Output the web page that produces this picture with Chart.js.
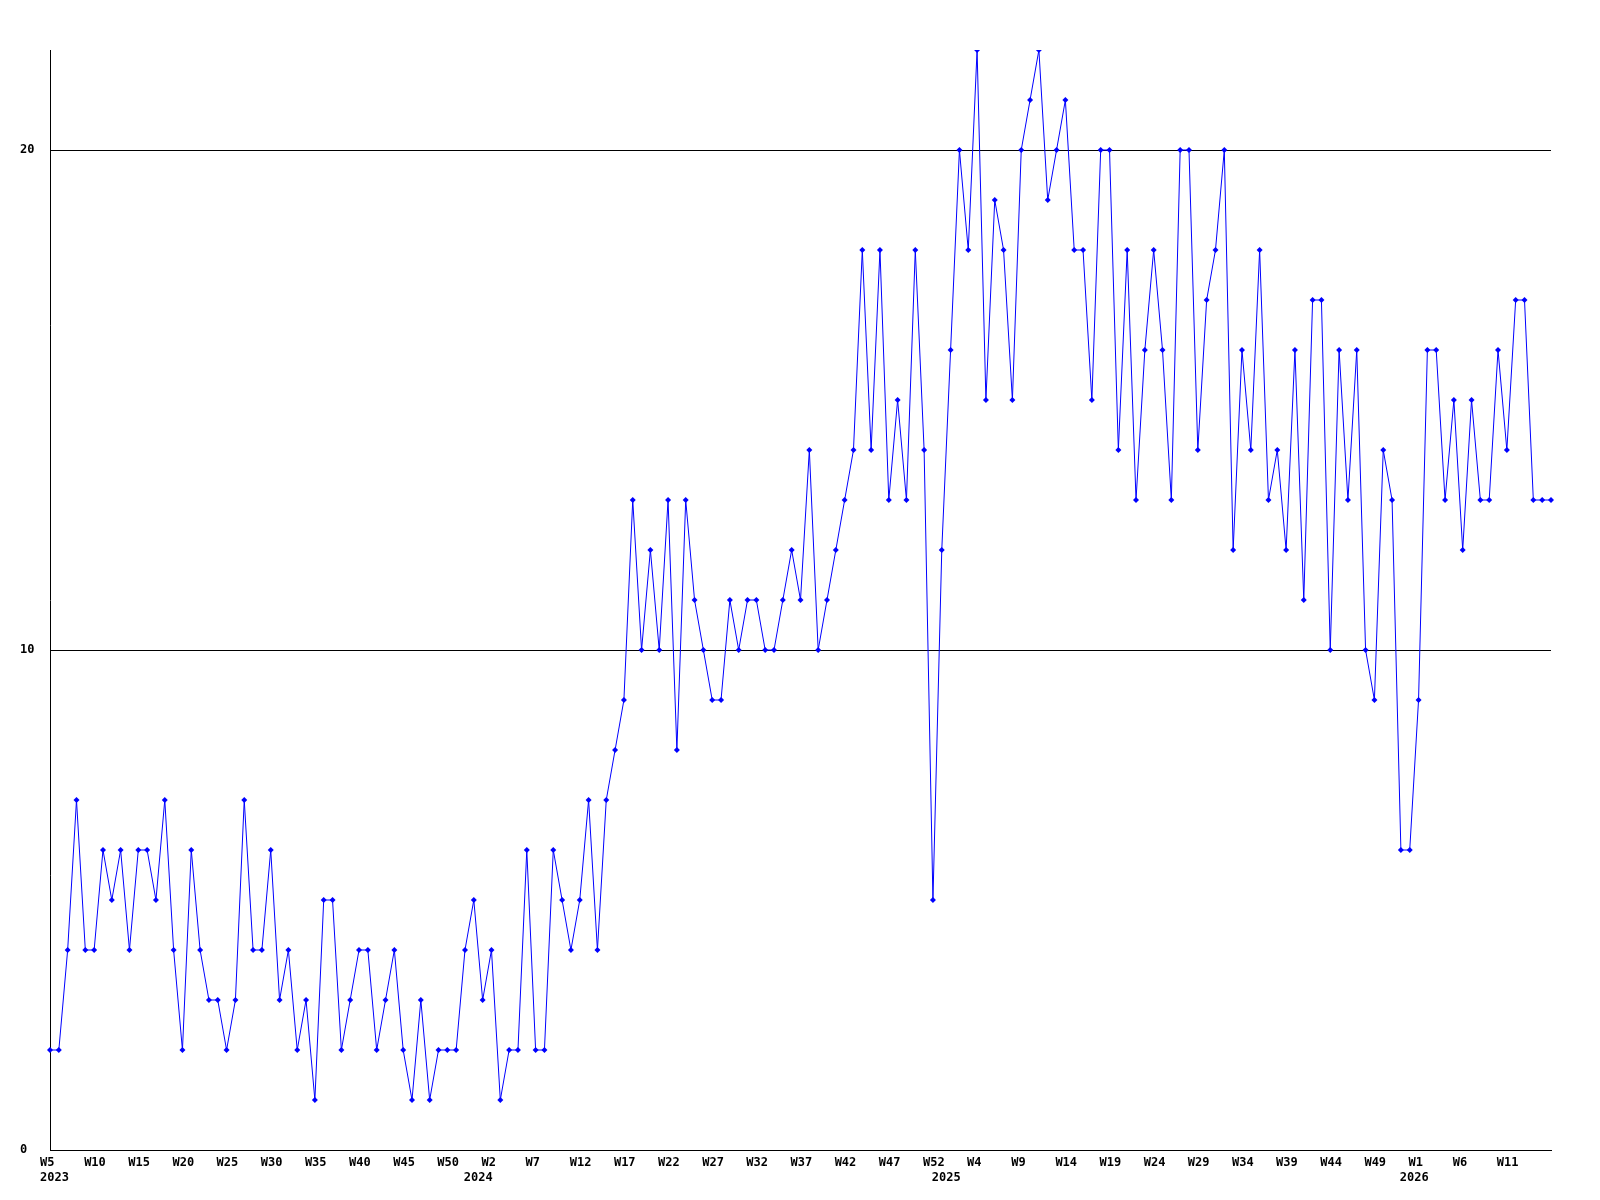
<!DOCTYPE html>
<html>
<head>
<meta charset="utf-8">
<script src="https://cdn.jsdelivr.net/npm/chart.js@4/dist/chart.umd.min.js"></script>
<style>
  html, body { margin: 0; padding: 0; background: #fff; }
  #chart { display: block; }
</style>
</head>
<body>
<canvas id="chart" width="1600" height="1200"></canvas>
<script>
// weekly counts, one array per year
const years = [2023, 2024, 2025, 2026];
const firstWeeks = [5, 0, 0, 0];
const lastWeeks = [52, 52, 52, 16];

const counts2023 = [
  2, 2, 4, 7, 4, 4, 6, 5, 6, 4, 6, 6, 5, 7, 4, 2, 6, 4, 3, 3, 2, 3, 7, 4,
  4, 6, 3, 4, 2, 3, 1, 5, 5, 2, 3, 4, 4, 2, 3, 4, 2, 1, 3, 1, 2, 2, 2, 4,
];
const counts2024 = [
  5, 3, 4, 1, 2, 2, 6, 2, 2, 6, 5, 4, 5, 7, 4, 7, 8, 9, 13, 10, 12, 10, 13, 8,
  13, 11, 10, 9, 9, 11, 10, 11, 11, 10, 10, 11, 12, 11, 14, 10, 11, 12, 13, 14,
  18, 14, 18, 13, 15, 13, 18, 14, 5,
];
const counts2025 = [
  12, 16, 20, 18, 22, 15, 19, 18, 15, 20, 21, 22, 19, 20, 21, 18, 18, 15, 20,
  20, 14, 18, 13, 16, 18, 16, 13, 20, 20, 14, 17, 18, 20, 12, 16, 14, 18, 13,
  14, 12, 16, 11, 17, 17, 10, 16, 13, 16, 10, 9, 14, 13, 6,
];
const counts2026 = [6, 9, 16, 16, 13, 15, 12, 15, 13, 13, 16, 14, 17, 17, 13, 13, 13];

const yTicks = [0, 10, 20];
const Y_MAX = 22;
const LABEL_EVERY = 5;

const weekLabels = [];
const yearStarts = {};
years.forEach((year, i) => {
  yearStarts[weekLabels.length] = String(year);
  for (let w = firstWeeks[i]; w <= lastWeeks[i]; w++) {
    weekLabels.push('W' + w);
  }
});
const counts = [].concat(counts2023, counts2024, counts2025, counts2026);
const lastIndex = weekLabels.length - 1;

const FONT = { family: "'DejaVu Sans Mono', monospace", size: 12, weight: 'bold', lineHeight: 1.25 };

new Chart(document.getElementById('chart'), {
  type: 'line',
  data: {
    labels: weekLabels,
    datasets: [
      {
        data: counts,
        borderColor: '#0000ff',
        backgroundColor: '#0000ff',
        borderWidth: 1,
        tension: 0,
        fill: false,
        pointStyle: 'rectRot',
        pointRadius: 3,
        pointBorderWidth: 0,
      },
    ],
  },
  options: {
    responsive: false,
    animation: false,
    layout: {
      padding: { left: 20, top: 50, right: 49, bottom: 0 },
    },
    plugins: {
      legend: { display: false },
      tooltip: { enabled: false },
    },
    scales: {
      x: {
        type: 'category',
        offset: false,
        grid: { display: false },
        border: { display: true, color: '#000', width: 1 },
        afterFit: (scale) => { scale.height = 50; },
        ticks: {
          autoSkip: false,
          maxRotation: 0,
          minRotation: 0,
          align: 'start',
          labelOffset: -10,
          padding: -3,
          color: '#000',
          font: FONT,
          callback: (value, index) => {
            const week = index % LABEL_EVERY === 0 && index < lastIndex ? weekLabels[index] : '';
            const year = yearStarts[index];
            if (year) return [week, year];
            return week;
          },
        },
      },
      y: {
        min: 0,
        max: Y_MAX,
        afterFit: (scale) => { scale.width = 30; },
        afterBuildTicks: (scale) => {
          scale.ticks = yTicks.map((v) => ({ value: v }));
        },
        grid: {
          color: '#000',
          lineWidth: 1,
          drawTicks: false,
        },
        border: { display: true, color: '#000', width: 1 },
        ticks: {
          crossAlign: 'far',
          padding: 0,
          color: '#000',
          font: FONT,
        },
      },
    },
  },
});
</script>
</body>
</html>
